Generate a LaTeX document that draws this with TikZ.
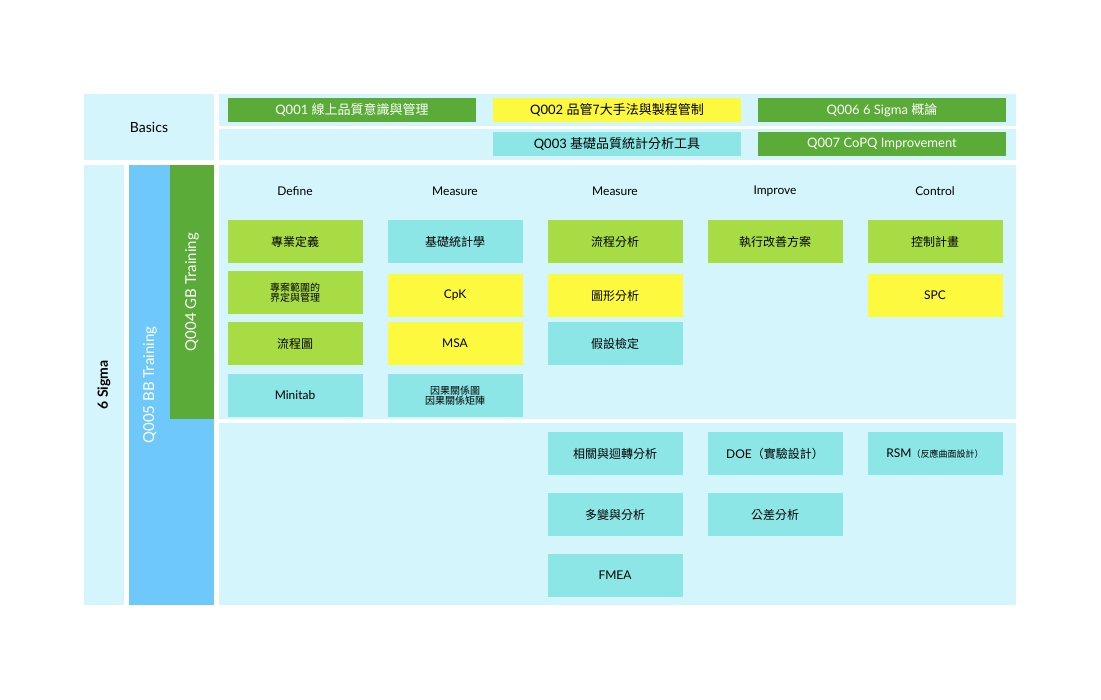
\documentclass[tikz,border=0pt]{standalone}
\usepackage{fontspec}
\setmainfont{Lato}
\newfontfamily\cjk{Noto Sans CJK TC}
\newcommand{\zh}[1]{{\cjk #1}}
\usetikzlibrary{positioning}
\definecolor{panel}{HTML}{D4F5FC}
\definecolor{dkgreen}{HTML}{5AAB38}
\definecolor{ltgreen}{HTML}{A8DC45}
\definecolor{yel}{HTML}{FDF93F}
\definecolor{cyn}{HTML}{8DE6E6}
\definecolor{bbblue}{HTML}{6EC8FA}
\tikzset{
  bg/.style={fill=panel, draw=none},
  course/.style={minimum width=248pt, minimum height=24pt, inner sep=0pt, font=\fontsize{13}{15}\selectfont},
  topic/.style={minimum width=135pt, minimum height=43pt, inner sep=0pt, align=center, font=\fontsize{12}{14}\selectfont},
  small/.style={font=\fontsize{10}{12}\selectfont},
  head/.style={font=\fontsize{12}{14}\selectfont},
}
\begin{document}
\begin{tikzpicture}[x=1pt, y=-1pt]
  \useasboundingbox (0,0) rectangle (1101,700);
  % backgrounds
  \fill[panel] (84,94) rectangle (214,160);
  \fill[panel] (219,94) rectangle (1016,126);
  \fill[panel] (219,129) rectangle (1016,160);
  \fill[panel] (84,165) rectangle (124,605);
  \fill[bbblue] (129,165) rectangle (214,605);
  \fill[dkgreen] (170,165) rectangle (214,419);
  \fill[panel] (219,165) rectangle (1016,419);
  \fill[panel] (219,423) rectangle (1016,605);

  \node (basics) at (149,127) [font=\fontsize{14}{16}\selectfont] {Basics};
  \node (sigma) at (104,385) [rotate=90, font=\fontsize{14}{16}\selectfont\bfseries] {6 Sigma};
  \node (bb) at (150,385) [rotate=90, text=white, font=\fontsize{15}{17}\selectfont] {Q005 BB Training};
  \node (gb) at (192,292) [rotate=90, text=white, font=\fontsize{15}{17}\selectfont] {Q004 GB Training};

  % courses
  \node (q001) at (352,110) [course, fill=dkgreen, text=white] {Q001 \zh{線上品質意識與管理}};
  \node (q002) at (617,110) [course, fill=yel] {Q002 \zh{品管7大手法與製程管制}};
  \node (q006) at (882,110) [course, fill=dkgreen, text=white] {Q006 6 Sigma \zh{概論}};
  \node (q003) at (617,144) [course, fill=cyn] {Q003 \zh{基礎品質統計分析工具}};
  \node (q007) at (882,144) [course, fill=dkgreen, text=white] {Q007 CoPQ Improvement};

  % headers
  \node (hdef) at (295,191) [head] {Define};
  \node (hmea) at (455,191) [head] {Measure};
  \node (hana) at (615,191) [head] {Measure};
  \node (himp) at (775,191) [head] {Improve};
  \node (hctl) at (935,191) [head] {Control};

  % Define
  \node (d1) at (295,241.5) [topic, fill=ltgreen] {\zh{專業定義}};
  \node (d2) at (295,292.5) [topic, fill=ltgreen, small] {\zh{專案範圍的}\\[-2pt]\zh{界定與管理}};
  \node (d3) at (295,343.5) [topic, fill=ltgreen] {\zh{流程圖}};
  \node (d4) at (295,395.5) [topic, fill=cyn] {Minitab};
  % Measure
  \node (m1) at (455,241.5) [topic, fill=cyn] {\zh{基礎統計學}};
  \node (m2) at (455,295.5) [topic, fill=yel] {CpK};
  \node (m3) at (455,343.5) [topic, fill=yel] {MSA};
  \node (m4) at (455,395.5) [topic, fill=cyn, small] {\zh{因果關係圖}\\[-2pt]\zh{因果關係矩陣}};
  % Analyze
  \node (a1) at (615,241.5) [topic, fill=ltgreen] {\zh{流程分析}};
  \node (a2) at (615,295.5) [topic, fill=yel] {\zh{圖形分析}};
  \node (a3) at (615,343.5) [topic, fill=cyn] {\zh{假設檢定}};
  \node (a4) at (615,453.5) [topic, fill=cyn] {\zh{相關與迴轉分析}};
  \node (a5) at (615,514.5) [topic, fill=cyn] {\zh{多變與分析}};
  \node (a6) at (615,575.5) [topic, fill=cyn] {FMEA};
  % Improve
  \node (i1) at (775,241.5) [topic, fill=ltgreen] {\zh{執行改善方案}};
  \node (i2) at (775,453.5) [topic, fill=cyn] {DOE\zh{（實驗設計）}};
  \node (i3) at (775,514.5) [topic, fill=cyn] {\zh{公差分析}};
  % Control
  \node (c1) at (935,241.5) [topic, fill=ltgreen] {\zh{控制計畫}};
  \node (c2) at (935,295.5) [topic, fill=yel] {SPC};
  \node (c3) at (935,453.5) [topic, fill=cyn] {RSM{\fontsize{9}{11}\selectfont\zh{（反應曲面設計）}}};
\end{tikzpicture}
\end{document}
